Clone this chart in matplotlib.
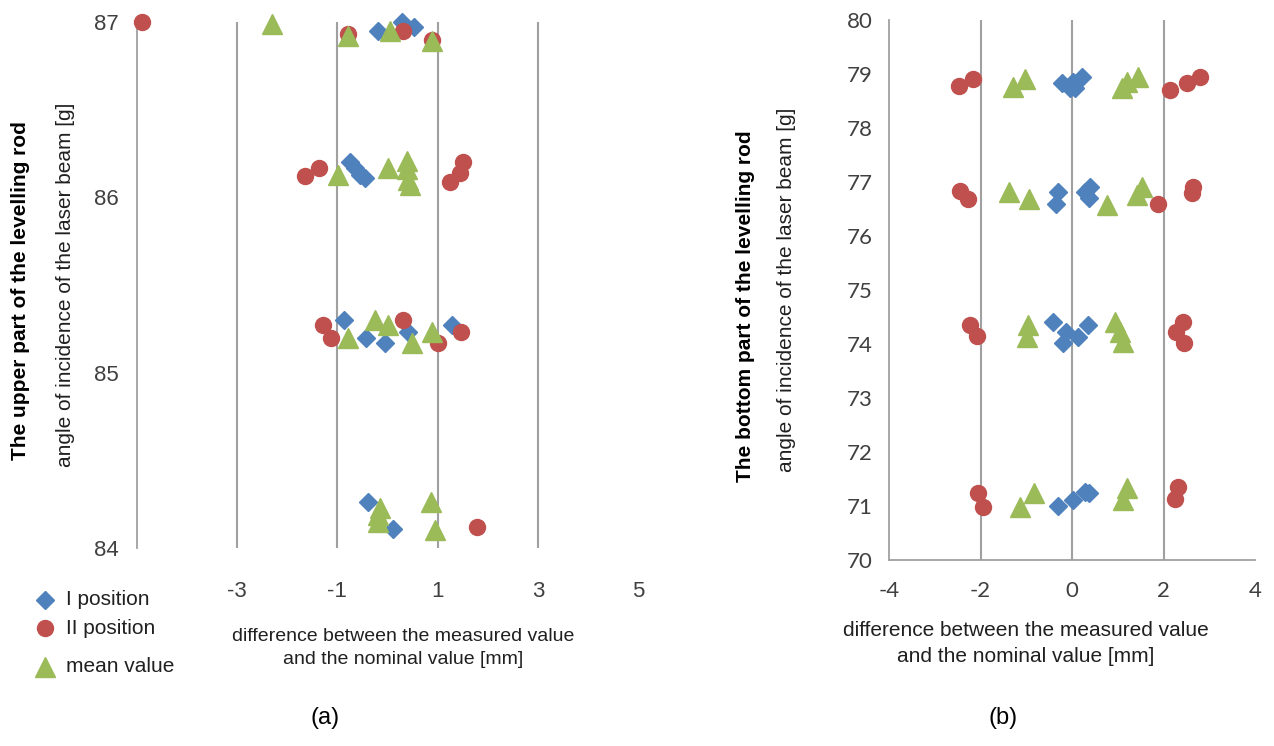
import matplotlib
matplotlib.use("Agg")
import matplotlib.pyplot as plt

plt.rcParams["axes.unicode_minus"] = False

# colours (Excel-like palette)
BLUE = "#4F81BD"
RED = "#C0504D"
GREEN = "#9BBB59"

# ---- panel (a): upper part of the levelling rod ----
a_pos1_x = [-0.19, 0.29, 0.53, -0.75, -0.65, -0.55, -0.45,
            -0.87, -0.43, -0.05, 0.41, 1.29, -0.39, 0.11]
a_pos1_y = [86.95, 87.00, 86.97, 86.20, 86.17, 86.13, 86.11,
            85.30, 85.20, 85.17, 85.23, 85.27, 84.26, 84.11]
a_pos2_x = [-4.89, -0.79, 0.31, 0.89, -1.65, -1.37, 1.51, 1.45, 1.25,
            -1.29, -1.13, 0.31, 1.01, 1.47, 1.79]
a_pos2_y = [87.00, 86.93, 86.95, 86.90, 86.12, 86.17, 86.20, 86.14, 86.09,
            85.27, 85.20, 85.30, 85.17, 85.23, 84.12]
a_mean_x = [-2.31, -0.79, 0.05, 0.89, -0.99, 0.01, 0.39, 0.39, 0.41, 0.45,
            -0.79, -0.25, 0.01, 0.49, 0.89, -0.15, -0.19, -0.19, 0.87, 0.95]
a_mean_y = [86.99, 86.92, 86.95, 86.89, 86.13, 86.17, 86.21, 86.16, 86.10, 86.07,
            85.20, 85.30, 85.27, 85.17, 85.23, 84.23, 84.19, 84.15, 84.26, 84.10]
a_xticks = [-3, -1, 1, 3, 5]
a_yticks = [84, 85, 86, 87]

# ---- panel (b): bottom part of the levelling rod ----
b_pos1_x = [-0.22, -0.04, 0.07, 0.22, 0.02, -0.31, -0.35, 0.28, 0.39, 0.37,
            -0.42, -0.13, -0.20, 0.13, 0.35, -0.31, 0.02, 0.28, 0.37]
b_pos1_y = [78.83, 78.74, 78.74, 78.94, 78.85, 76.81, 76.59, 76.81, 76.91, 76.70,
            74.41, 74.22, 74.02, 74.13, 74.35, 71.00, 71.11, 71.26, 71.24]
b_pos2_x = [-2.47, -2.16, 2.14, 2.51, 2.80, -2.45, -2.27, 1.88, 2.64, 2.62,
            -2.23, -2.08, 2.43, 2.27, 2.45, -2.05, -1.95, 2.32, 2.25]
b_pos2_y = [78.78, 78.91, 78.70, 78.83, 78.94, 76.83, 76.69, 76.59, 76.91, 76.80,
            74.35, 74.15, 74.41, 74.22, 74.02, 71.24, 70.98, 71.35, 71.13]
b_mean_x = [-1.29, -1.03, 1.09, 1.20, 1.44, -1.38, -0.94, 0.77, 1.53, 1.42,
            -0.96, -0.98, 0.94, 1.05, 1.11, -1.14, -0.83, 1.20, 1.11]
b_mean_y = [78.76, 78.91, 78.74, 78.85, 78.94, 76.81, 76.69, 76.57, 76.91, 76.76,
            74.35, 74.13, 74.41, 74.22, 74.04, 70.98, 71.24, 71.33, 71.11]
b_xticks = [-4, -2, 0, 2, 4]
b_yticks = list(range(70, 81))

xlabel = "difference between the measured value\nand the nominal value [mm]"
ylabel2 = "angle of incidence of the laser beam [g]"
TXT = ["Liberation Sans", "DejaVu Sans"]

fig = plt.figure(figsize=(12.74, 7.46), dpi=100)
ax1 = fig.add_axes([0.1075, 0.2654, 0.3933, 0.7051])
ax2 = fig.add_axes([0.6978, 0.2493, 0.2873, 0.7239])


def draw(ax, p1x, p1y, p2x, p2y, mx, my):
    ax.plot(p1x, p1y, "D", color=BLUE, ms=9, mec=BLUE, zorder=3, clip_on=False)
    ax.plot(p2x, p2y, "o", color=RED, ms=11.5, mec=RED, zorder=4, clip_on=False)
    ax.plot(mx, my, "^", color=GREEN, ms=14, mec=GREEN, zorder=5, clip_on=False)
    for s in ["top", "right"]:
        ax.spines[s].set_visible(False)
    ax.spines["left"].set_color("#a0a0a0")
    ax.spines["left"].set_linewidth(1.3)
    ax.tick_params(length=0)


draw(ax1, a_pos1_x, a_pos1_y, a_pos2_x, a_pos2_y, a_mean_x, a_mean_y)
ax1.set_xlim(-5, 5)
ax1.set_ylim(84, 87)
ax1.set_xticks(a_xticks)
ax1.set_yticks(a_yticks)
ax1.spines["bottom"].set_visible(False)
for gx in [-3, -1, 1, 3]:
    ax1.axvline(gx, color="#a0a0a0", lw=1.5, zorder=1)
ax1.tick_params(axis="x", pad=24)
ax1.tick_params(axis="y", pad=13)
for t in ax1.get_xticklabels() + ax1.get_yticklabels():
    t.set_fontfamily(TXT)
    t.set_fontsize(16)
    t.set_color("#404040")
ax1.set_xlabel(xlabel, fontsize=14, family=TXT, color="#202020", linespacing=1.5)
ax1.xaxis.set_label_coords(0.532, -0.19, transform=ax1.transAxes)
ax1.xaxis.label.set_va("center")
ax1.set_ylabel(ylabel2, fontsize=15, family=TXT, labelpad=14, color="#202020")
fig.text(0.016, 0.61, "The upper part of the levelling rod", rotation=90,
         ha="center", va="center", fontsize=15, fontweight="bold", family=TXT)

draw(ax2, b_pos1_x, b_pos1_y, b_pos2_x, b_pos2_y, b_mean_x, b_mean_y)
ax2.set_xlim(-4, 4)
ax2.set_ylim(70, 80)
ax2.set_xticks(b_xticks)
ax2.set_yticks(b_yticks)
for gx in [-2, 0, 2]:
    ax2.axvline(gx, color="#a0a0a0", lw=1.5, zorder=1)
ax2.spines["bottom"].set_color("#a0a0a0")
ax2.spines["bottom"].set_linewidth(1.3)
ax2.tick_params(axis="x", pad=15)
ax2.tick_params(axis="y", pad=12)
for t in ax2.get_xticklabels() + ax2.get_yticklabels():
    t.set_fontfamily(["Lato", "DejaVu Sans"])
    t.set_fontsize(16)
    t.set_color("#404040")
ax2.set_xlabel(xlabel, fontsize=15, family=TXT, color="#202020", linespacing=1.5)
ax2.xaxis.set_label_coords(0.374, -0.155, transform=ax2.transAxes)
ax2.xaxis.label.set_va("center")
ax2.set_ylabel(ylabel2, fontsize=15, family=TXT, labelpad=36, color="#202020")
fig.text(0.585, 0.59, "The bottom part of the levelling rod", rotation=90,
         ha="center", va="center", fontsize=15, fontweight="bold", family=TXT)

# legend drawn by hand at the bottom left
leg_items = [("D", BLUE, 9, "I position"), ("o", RED, 11.5, "II position"),
             ("^", GREEN, 14, "mean value")]
leg_y = [0.196, 0.158, 0.106]
for (mk, col, ms, lab), ly in zip(leg_items, leg_y):
    fig.lines.append(plt.Line2D([0.035], [ly], marker=mk, color=col, ms=ms,
                                ls="", transform=fig.transFigure))
    fig.text(0.052, ly, lab, va="center", fontsize=15, family=TXT, color="#202020")

fig.text(0.255, 0.038, "(a)", ha="center", va="center", fontsize=17, family="Liberation Sans")
fig.text(0.787, 0.038, "(b)", ha="center", va="center", fontsize=17, family="Liberation Sans")

fig.savefig("out.png", dpi=100)
